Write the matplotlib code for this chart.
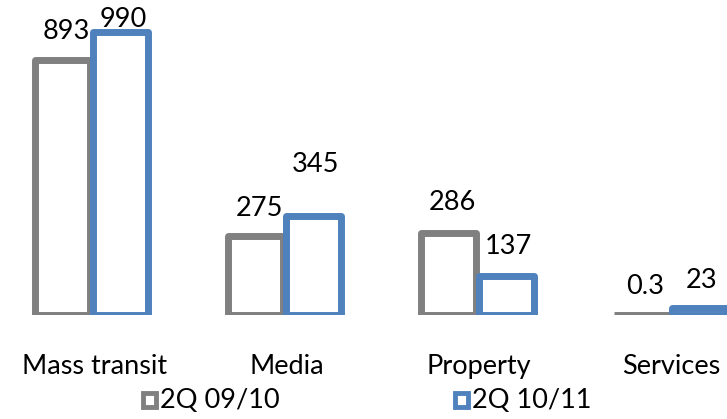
import matplotlib
matplotlib.use("Agg")
import matplotlib.pyplot as plt
import numpy as np
from matplotlib.patches import Rectangle

categories = ["Mass transit", "Media", "Property", "Services"]
series_names = ["2Q 09/10", "2Q 10/11"]
values_0910 = [893, 275, 286, 0.3]
values_1011 = [990, 345, 137, 23]
labels_0910 = ["893", "275", "286", "0.3"]
labels_1011 = ["990", "345", "137", "23"]

GRAY = "#808080"
BLUE = "#4F81BD"
FS = 19.5

plt.rcParams["font.family"] = ["Lato", "DejaVu Sans"]

fig = plt.figure(figsize=(7.27, 4.19), dpi=100)
ax = fig.add_axes([0, 104 / 419, 1, 315 / 419])

x = np.arange(len(categories))
width = 0.285
offsets = [-0.155, 0.145]
colors = [GRAY, BLUE]
series = [values_0910, values_1011]
for off, vals, col in zip(offsets, series, colors):
    ax.bar(x + off, vals, width, facecolor="white", edgecolor=col,
           linewidth=5, joinstyle="round")

# label placement (Excel-style staggering), in data units above the bar
lift_0910 = [100, 96, 106, 98]
lift_1011 = [45, 180, 104, 99]
for i in range(len(categories)):
    ax.text(x[i] + offsets[0] + 0.02, values_0910[i] + lift_0910[i], labels_0910[i],
            ha="center", va="center", fontsize=FS, clip_on=False)
    ax.text(x[i] + offsets[1] + 0.015, values_1011[i] + lift_1011[i], labels_1011[i],
            ha="center", va="center", fontsize=FS, clip_on=False)

ax.set_xlim(-0.477, 3.29)
ax.set_ylim(0, 1102)
ax.axis("off")

for i, c in enumerate(categories):
    fig.text((95 + 192 * i) / 727, 1 - 366 / 419, c, ha="center", va="center",
             fontsize=FS)

# legend
leg_x = [143, 455]
for lx, name, col in zip(leg_x, series_names, colors):
    fig.patches.append(Rectangle((lx / 727, 1 - 407 / 419), 13 / 727, 14 / 419,
                                 transform=fig.transFigure, facecolor="white",
                                 edgecolor=col, linewidth=3.5))
    fig.text((lx + 17) / 727, 1 - 400 / 419, name, ha="left", va="center",
             fontsize=FS)

fig.savefig("out.png", dpi=100)
